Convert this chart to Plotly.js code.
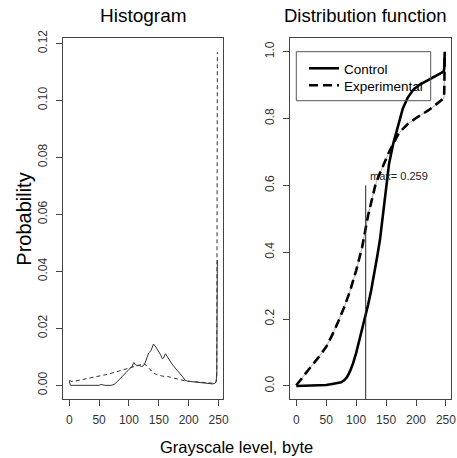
<!DOCTYPE html>
<html>
<head>
<meta charset="utf-8">
<script src="https://cdn.plot.ly/plotly-3.0.1.min.js"></script>
<style>html,body{margin:0;padding:0;background:#fff;}#chart{width:457px;height:458px;}</style>
</head>
<body>
<div id="chart"></div>
<script>
// Histogram (probability per grayscale level)
var histCtrlX = [0,2,5,20,40,50,53,56,60,70,75,80,85,90,95,100,105,108,111,114,117,121,124,127,130,133,137,141,144,147,150,153,156,158,161,164,168,172,176,180,185,190,194,198,205,212,220,230,240,244,246,247,248];
var histCtrlY = [0.0015,0.0,0.0,0.0,0.0,0.0,0.0003,0.0002,0.0,0.0,0.0003,0.0012,0.0022,0.0033,0.0045,0.0056,0.0065,0.0080,0.0072,0.0069,0.0070,0.0066,0.0068,0.0078,0.0096,0.0114,0.0122,0.0145,0.0138,0.0128,0.0121,0.0107,0.0093,0.0096,0.0111,0.0100,0.0085,0.0075,0.0064,0.0055,0.0043,0.0030,0.0018,0.0015,0.0013,0.0011,0.0009,0.0008,0.0005,0.0007,0.0015,0.0045,0.044];
var histExpX = [0,3,10,20,30,40,50,60,70,80,90,100,110,118,125,129,133,137,141,146,150,155,160,165,170,175,180,185,190,195,200,210,220,230,240,244,246,247,248];
var histExpY = [0.0018,0.0014,0.0015,0.0019,0.0023,0.0028,0.0033,0.0037,0.0042,0.0048,0.0055,0.0062,0.0068,0.0072,0.0076,0.0070,0.0060,0.0050,0.0043,0.0038,0.0035,0.0033,0.0031,0.0031,0.0028,0.0025,0.0023,0.0020,0.0017,0.0015,0.0014,0.0012,0.0010,0.0008,0.0007,0.0007,0.0012,0.0025,0.117];

// Cumulative distribution functions
var cdfCtrlX = [0,20,40,50,60,70,75,80,85,90,95,100,105,110,115,120,125,130,135,140,145,150,155,162,170,178,186,195,205,215,226,236,246,247,248];
var cdfCtrlY = [0,0.001,0.002,0.003,0.006,0.008,0.011,0.017,0.027,0.045,0.068,0.098,0.133,0.168,0.205,0.243,0.285,0.33,0.385,0.44,0.51,0.59,0.665,0.725,0.78,0.83,0.862,0.885,0.9,0.91,0.92,0.93,0.94,0.948,1.0];
var cdfExpX = [0,5,10,15,20,25,30,40,50,60,70,80,90,100,110,116,120,126,132,137,143,148,155,162,170,176,187,199,210,221,232,243,246,247,248];
var cdfExpY = [0.002,0.012,0.024,0.036,0.047,0.058,0.07,0.092,0.117,0.152,0.192,0.235,0.285,0.345,0.415,0.472,0.51,0.555,0.6,0.625,0.65,0.675,0.7,0.725,0.752,0.765,0.785,0.80,0.812,0.825,0.84,0.855,0.86,0.868,0.985];

// Maximum difference marker
var maxDiffX = [116, 116];
var maxDiffY = [-0.05, 0.6];
var maxLabel = "max= 0.259";
var seriesNames = ["Control", "Experimental"];

var FONT = "Liberation Sans, Arial, sans-serif";
var W = 457, H = 458;
function px(x){ return x / W; }
function py(y){ return 1 - y / H; }

var traces = [
  {x: histCtrlX, y: histCtrlY, xaxis: 'x', yaxis: 'y', mode: 'lines', showlegend: false,
   line: {color: '#333', width: 1}},
  {x: histExpX, y: histExpY, xaxis: 'x', yaxis: 'y', mode: 'lines', showlegend: false,
   line: {color: '#333', width: 1, dash: '4px,3px'}},
  {x: cdfExpX, y: cdfExpY, xaxis: 'x2', yaxis: 'y2', mode: 'lines', showlegend: false,
   line: {color: '#777', width: 0.6}},
  {x: cdfCtrlX, y: cdfCtrlY, xaxis: 'x2', yaxis: 'y2', mode: 'lines', name: seriesNames[0],
   legend: 'legend', line: {color: '#000', width: 2.6}},
  {x: cdfExpX, y: cdfExpY, xaxis: 'x2', yaxis: 'y2', mode: 'lines', name: seriesNames[1],
   legend: 'legend2', line: {color: '#000', width: 2.6, dash: '9px,5px'}},
  {x: maxDiffX, y: maxDiffY, xaxis: 'x2', yaxis: 'y2', mode: 'lines', showlegend: false,
   line: {color: '#222', width: 1}}
];

var axisCommon = {
  showgrid: false, zeroline: false, showline: true, mirror: true,
  linecolor: '#444', linewidth: 1, ticks: 'outside', ticklen: 6, tickcolor: '#444',
  tickfont: {family: FONT, size: 12, color: '#333'}, ticklabelstandoff: 5
};
function ax(extra){ return Object.assign({}, axisCommon, extra); }

var yDomain = [(H - 399.3) / H, (H - 38.3) / H];
var legendCommon = {
  xanchor: 'left', yanchor: 'top', bgcolor: 'rgba(0,0,0,0)', borderwidth: 0,
  font: {family: FONT, size: 13.5, color: '#000'}, itemwidth: 30
};

var layout = {
  width: W, height: H,
  margin: {l: 0, r: 0, t: 0, b: 0},
  paper_bgcolor: '#fff', plot_bgcolor: '#fff',
  font: {family: FONT, color: '#000'},
  xaxis: ax({domain: [px(63.3), px(223.3)], range: [-9.92, 257.92], tickvals: [0,50,100,150,200,250], anchor: 'y', ticklabelstandoff: 3}),
  yaxis: ax({domain: yDomain, range: [-0.0049, 0.1218], tickvals: [0,0.02,0.04,0.06,0.08,0.10,0.12], tickformat: '.2f', tickangle: -90, anchor: 'x'}),
  xaxis2: ax({domain: [px(290.3), px(450.7)], range: [-9.92, 257.92], tickvals: [0,50,100,150,200,250], anchor: 'y2', ticklabelstandoff: 3}),
  yaxis2: ax({domain: yDomain, range: [-0.04, 1.04], tickvals: [0,0.2,0.4,0.6,0.8,1.0], tickformat: '.1f', tickangle: -90, anchor: 'x2'}),
  showlegend: true,
  legend: Object.assign({x: px(304), y: py(53)}, legendCommon),
  legend2: Object.assign({x: px(304), y: py(70)}, legendCommon),
  shapes: [
    {type: 'rect', xref: 'paper', yref: 'paper', x0: px(296.3), x1: px(430.7), y0: py(100.7), y1: py(51.7),
     line: {color: '#555', width: 1}, fillcolor: 'rgba(0,0,0,0)'}
  ],
  annotations: [
    {text: 'Histogram', xref: 'paper', yref: 'paper', x: px(143.3), y: py(15.7), xanchor: 'center', yanchor: 'middle',
     showarrow: false, font: {family: FONT, size: 19, color: '#000'}},
    {text: 'Distribution function', xref: 'paper', yref: 'paper', x: px(365.3), y: py(15.7), xanchor: 'center', yanchor: 'middle',
     showarrow: false, font: {family: FONT, size: 18.5, color: '#000'}},
    {text: 'Probability', xref: 'paper', yref: 'paper', x: px(23.7), y: py(219), xanchor: 'center', yanchor: 'middle',
     textangle: -90, showarrow: false, font: {family: FONT, size: 20, color: '#000'}},
    {text: 'Grayscale level, byte', xref: 'paper', yref: 'paper', x: px(236), y: py(447), xanchor: 'center', yanchor: 'middle',
     showarrow: false, font: {family: FONT, size: 16.5, color: '#000'}},
    {text: maxLabel, xref: 'x2', yref: 'y2', x: 120, y: 0.627, xanchor: 'left', yanchor: 'middle',
     showarrow: false, font: {family: FONT, size: 11, color: '#222'}}
  ]
};

Plotly.newPlot('chart', traces, layout, {displayModeBar: false, staticPlot: true});
</script>
</body>
</html>
